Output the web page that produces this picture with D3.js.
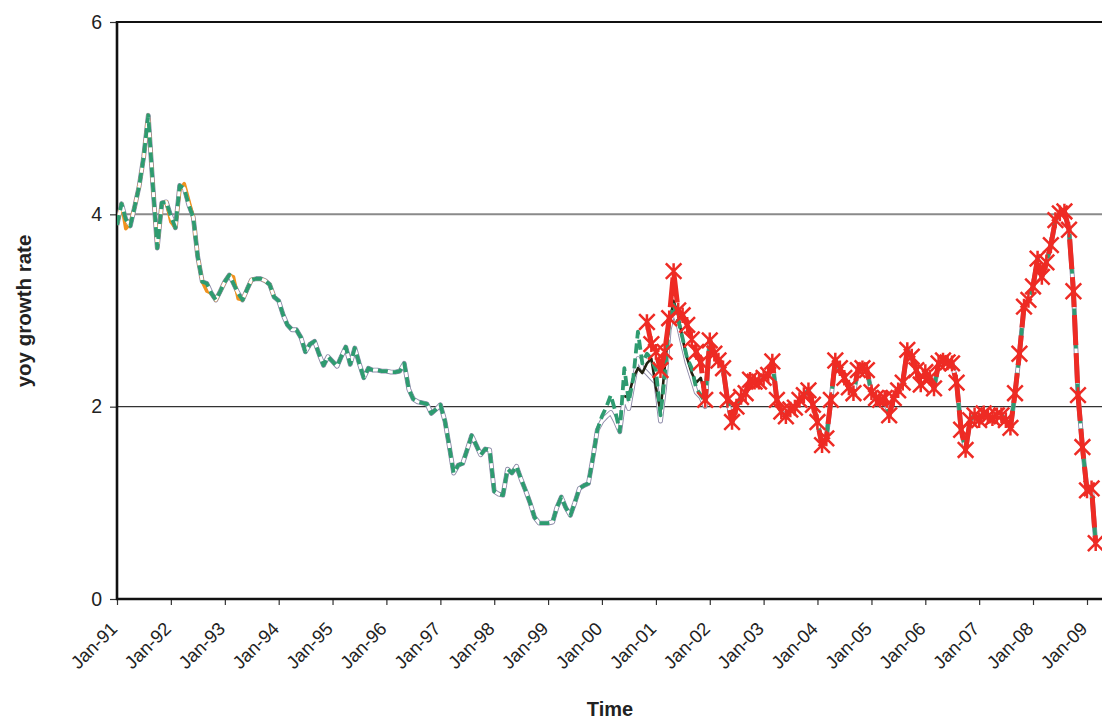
<!DOCTYPE html>
<html><head><meta charset="utf-8">
<script src="https://cdn.jsdelivr.net/npm/d3@7"></script>
<style>body{margin:0;background:#fff} svg{display:block}</style>
</head><body><svg id="c" width="1102" height="719"></svg>
<script>
// ---------- data ----------
const startMonth = "1991-01";
const yTicks = [0, 2, 4, 6];
const xTickLabels = ["Jan-91","Jan-92","Jan-93","Jan-94","Jan-95","Jan-96","Jan-97","Jan-98","Jan-99",
  "Jan-00","Jan-01","Jan-02","Jan-03","Jan-04","Jan-05","Jan-06","Jan-07","Jan-08","Jan-09"];
const yTitle = "yoy growth rate";
const xTitle = "Time";

// main (green dashed) vintage, Jan-91 .. Dec-01
const greenEarly = [
  3.89,4.11,3.95,3.88,4.08,4.30,4.60,5.03,4.30,3.65,4.12,4.13,
  3.98,3.86,4.30,4.27,4.10,3.97,3.56,3.30,3.28,3.18,3.11,3.20,
  3.30,3.37,3.28,3.18,3.11,3.22,3.32,3.33,3.33,3.31,3.27,3.14,
  3.10,2.95,2.85,2.80,2.80,2.72,2.57,2.65,2.68,2.55,2.43,2.52,
  2.47,2.42,2.52,2.62,2.44,2.61,2.45,2.30,2.40,2.38,2.38,2.37,
  2.37,2.36,2.36,2.37,2.45,2.18,2.08,2.05,2.04,2.03,1.93,1.97,
  2.02,1.85,1.60,1.31,1.39,1.41,1.55,1.70,1.60,1.50,1.56,1.55,
  1.12,1.09,1.08,1.35,1.31,1.38,1.25,1.13,1.00,0.85,0.79,0.79,
  0.79,0.80,0.95,1.06,0.95,0.87,1.00,1.15,1.18,1.20,1.47,1.76,
  1.90,2.00,2.12,1.95,1.74,2.40,2.05,2.30,2.78,2.45,2.55,2.50,
  2.38,1.91,2.30,2.88,3.06,2.90,2.71,2.50,2.40,2.19,2.12,2.05
];

// latest vintage (red, star markers), Nov-00 .. Mar-09
const redStart = "2000-11";
const redSeries = [
  2.88,2.65,2.57,2.38,2.57,2.92,3.41,3.00,2.95,2.85,2.70,2.57,2.46,2.07,
  2.69,2.55,2.48,2.40,2.07,1.84,2.00,2.10,2.14,2.28,2.26,2.26,2.30,2.33,
  2.47,2.07,1.95,1.90,1.97,1.99,2.07,2.12,2.17,2.02,1.84,1.60,1.67,2.07,
  2.48,2.40,2.30,2.20,2.14,2.38,2.40,2.38,2.15,2.09,2.07,2.09,1.91,2.09,
  2.17,2.25,2.59,2.52,2.38,2.23,2.36,2.30,2.19,2.45,2.48,2.46,2.45,2.25,
  1.76,1.55,1.86,1.91,1.86,1.93,1.90,1.88,1.91,1.91,1.86,1.78,2.14,2.55,
  3.04,3.11,3.25,3.54,3.35,3.50,3.68,3.94,4.01,4.03,3.84,3.20,2.12,1.58,1.13,1.15,0.58
];

// earlier vintages that differ from the main one
const orangeStart = "1991-01";
const orangeSeries = [
  3.89,4.11,3.85,3.90,4.08,4.30,4.60,5.03,4.30,3.65,4.12,4.13,
  3.92,3.86,4.25,4.32,4.15,3.97,3.56,3.30,3.20,3.18,3.11,3.20,
  3.30,3.37,3.35,3.12,3.11,3.22,3.32,3.33,3.33,3.31,3.27,3.14
];
const whiteStart = "2000-01";
const whiteRevision = [
  1.85,1.90,1.94,1.85,1.74,2.10,1.98,2.25,2.50,2.40,2.35,2.30,
  2.25,1.85,2.20,2.80,3.00,2.85,2.65,2.45,2.30,2.15,2.10,2.00
];
const blackStart = "2000-06";
const blackSeries = [2.10,2.12,2.30,2.40,2.35,2.45,2.50,2.20,1.95,2.40,2.85,3.10,2.95,2.70,2.50,2.35,2.25,2.30,2.10];

// ---------- build ----------
const parse = d3.timeParse("%Y-%m");
const monthsFrom = (start, n) => d3.range(n).map(i => d3.timeMonth.offset(parse(start), i));

const greenValues = greenEarly.concat(redSeries.slice(greenEarly.length - 118));
const green = monthsFrom(startMonth, greenValues.length).map((d, i) => ({d, v: greenValues[i]}));
const red = monthsFrom(redStart, redSeries.length).map((d, i) => ({d, v: redSeries[i]}));
const orange = monthsFrom(orangeStart, orangeSeries.length).map((d, i) => ({d, v: orangeSeries[i]}));
const whiteOffset = d3.timeMonth.count(parse(startMonth), parse(whiteStart));
const white = green.map((p, i) => ({d: p.d, v: (i >= whiteOffset && i < whiteOffset + whiteRevision.length) ? whiteRevision[i - whiteOffset] : p.v}));
const black = monthsFrom(blackStart, blackSeries.length).map((d, i) => ({d, v: blackSeries[i]}));

const W = 1102;
const padL = 117, padT = 22, padB = 599;
const FONT = "Liberation Sans, Arial, sans-serif";
const svg = d3.select("#c");

const x = d3.scaleTime().domain([parse("1991-01"), parse("2009-01")]).range([padL, 1087]);
const y = d3.scaleLinear().domain([0, 6]).range([padB, padT]);

svg.append("defs").append("clipPath").attr("id", "clip")
  .append("rect").attr("x", padL).attr("y", padT - 10).attr("width", W - padL).attr("height", padB - padT + 10);

// gridlines
svg.append("line").attr("x1", padL).attr("x2", W).attr("y1", y(4)).attr("y2", y(4))
  .attr("stroke", "#8a8a8a").attr("stroke-width", 2);
svg.append("line").attr("x1", padL).attr("x2", W).attr("y1", y(2)).attr("y2", y(2))
  .attr("stroke", "#333").attr("stroke-width", 1.2);
svg.append("line").attr("x1", padL).attr("x2", W).attr("y1", y(6)).attr("y2", y(6))
  .attr("stroke", "#111").attr("stroke-width", 2);

// y axis
const yAxis = d3.axisLeft(y).tickValues(yTicks).tickSize(7).tickFormat(d3.format("d"));
const ya = svg.append("g").attr("transform", `translate(${padL},0)`).call(yAxis);
ya.select(".domain").remove();
ya.selectAll(".tick line").attr("stroke", "#333").attr("stroke-width", 1.2);
ya.selectAll(".tick text").attr("x", -15).attr("font-family", FONT)
  .attr("font-size", 19.5).attr("fill", "#222");

// x axis
const xTicks = xTickLabels.map((_, i) => d3.timeYear.offset(parse("1991-01"), i));
const xAxis = d3.axisBottom(x).tickValues(xTicks).tickSize(6).tickFormat((d, i) => xTickLabels[i]);
const xa = svg.append("g").attr("transform", `translate(0,${padB})`).call(xAxis);
xa.select(".domain").remove();
xa.selectAll(".tick line").attr("stroke", "#333").attr("stroke-width", 1.2);
xa.selectAll(".tick text")
  .attr("font-family", FONT).attr("font-size", 18.5).attr("fill", "#222")
  .attr("text-anchor", "end").attr("dy", null).attr("y", null)
  .attr("transform", "translate(1,31) rotate(-45)");

// axis lines
svg.append("line").attr("x1", padL).attr("x2", padL).attr("y1", padT - 1).attr("y2", padB + 1)
  .attr("stroke", "#111").attr("stroke-width", 2.6);
svg.append("line").attr("x1", padL - 1).attr("x2", W).attr("y1", padB).attr("y2", padB)
  .attr("stroke", "#111").attr("stroke-width", 2.6);

// series
const line = d3.line().x(p => x(p.d)).y(p => y(p.v));
const g = svg.append("g").attr("clip-path", "url(#clip)");
g.append("path").datum(white).attr("d", line).attr("fill", "none").attr("stroke", "#8d8aa8").attr("stroke-width", 4.8).attr("stroke-linejoin", "round");
g.append("path").datum(orange).attr("d", line).attr("fill", "none").attr("stroke", "#f0921e").attr("stroke-width", 3.4).attr("stroke-linejoin", "round");
g.append("path").datum(white).attr("d", line).attr("fill", "none").attr("stroke", "#ffffff").attr("stroke-width", 3).attr("stroke-linejoin", "round");
g.append("path").datum(black).attr("d", line).attr("fill", "none").attr("stroke", "#222211").attr("stroke-width", 2.6).attr("stroke-linejoin", "round");
g.append("path").datum(green).attr("d", line).attr("fill", "none").attr("stroke", "#2e9b70").attr("stroke-width", 3.8)
  .attr("stroke-dasharray", "10,5").attr("stroke-linejoin", "round");
g.append("path").datum(red).attr("d", line).attr("fill", "none").attr("stroke", "#ee2b24").attr("stroke-width", 5)
  .attr("stroke-dasharray", "30,8").attr("stroke-linejoin", "round");

const s = 7.8;
const star = `M${-s},${-s}L${s},${s}M${-s},${s}L${s},${-s}M0,${-s}L0,${s}`;
g.selectAll(".mk").data(red).join("path").attr("class", "mk")
  .attr("transform", p => `translate(${x(p.d)},${y(p.v)})`)
  .attr("d", star).attr("fill", "none").attr("stroke", "#ee2b24").attr("stroke-width", 2.5);

// titles
svg.append("text").attr("transform", `translate(31,311) rotate(-90)`).attr("text-anchor", "middle")
  .attr("font-family", FONT).attr("font-weight", "bold").attr("font-size", 20.5)
  .attr("fill", "#222").text(yTitle);
svg.append("text").attr("x", 610).attr("y", 716).attr("text-anchor", "middle")
  .attr("font-family", FONT).attr("font-weight", "bold").attr("font-size", 20)
  .attr("fill", "#222").text(xTitle);
</script>
</body></html>
